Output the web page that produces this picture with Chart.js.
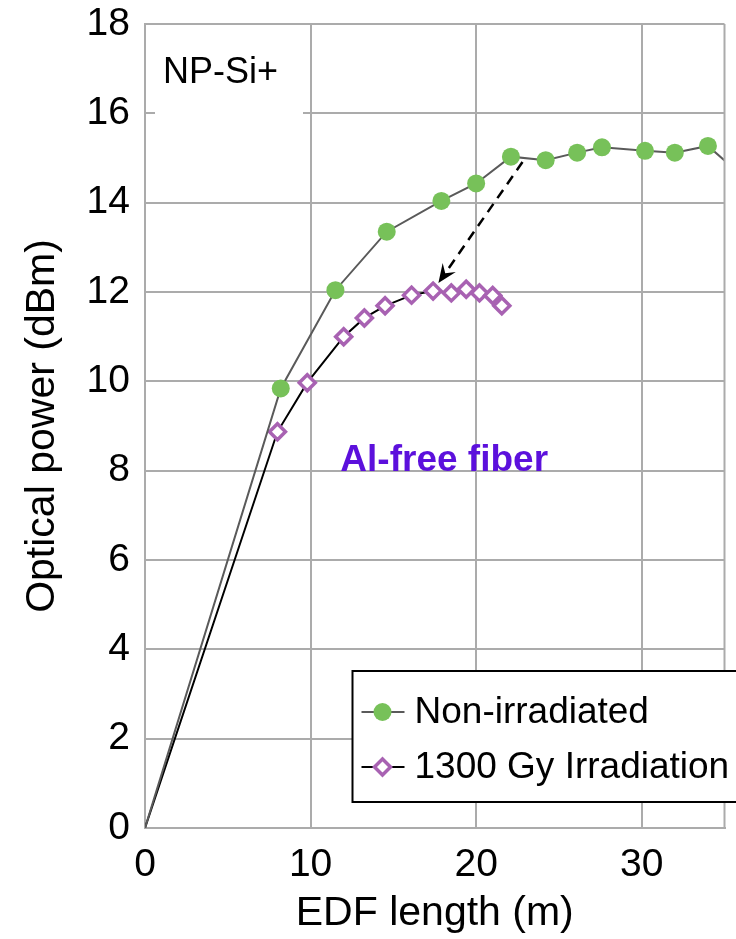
<!DOCTYPE html>
<html>
<head>
<meta charset="utf-8">
<script src="https://cdn.jsdelivr.net/npm/chart.js@4.4.1/dist/chart.umd.min.js"></script>
<style>
  html, body { margin: 0; padding: 0; background: #fff; }
  #wrap { width: 736px; height: 939px; }
</style>
</head>
<body>
<div id="wrap"><canvas id="chart"></canvas></div>
<script>
// values (EDF length in m, optical power in dBm)
const lengthNonIrr = [0, 8.2, 11.5, 14.6, 17.9, 20.0, 22.1, 24.2, 26.1, 27.6, 30.2, 32.0, 34.0, 36.0];
const powerNonIrr  = [0, 9.84, 12.04, 13.35, 14.04, 14.43, 15.03, 14.95, 15.12, 15.24, 15.16, 15.12, 15.27, 14.62];
const lengthIrr = [0, 8.0, 9.8, 12.0, 13.25, 14.5, 16.1, 17.4, 18.5, 19.4, 20.2, 21.0, 21.55];
const powerIrr  = [0, 8.87, 9.97, 11.0, 11.42, 11.69, 11.93, 12.02, 11.98, 12.06, 11.98, 11.92, 11.69];
const xTicks = [0, 10, 20, 30];
const yTicks = [0, 2, 4, 6, 8, 10, 12, 14, 16, 18];
const seriesNames = ['Non-irradiated', '1300 Gy Irradiation'];
// dashed arrow from the non-irradiated curve down to the irradiated one
const arrowFrom = [22.8, 14.91];
const arrowTo = [17.72, 12.2];

const FONT = '"Liberation Sans", Arial, Helvetica, sans-serif';
const GRID = '#ababab';

function toPoints(xs, ys) {
    return xs.map((x, i) => ({x: x, y: ys[i]}));
}

function drawMarker(ctx, ds, px, py) {
    ctx.save();
    if (ds.pointStyle === 'rectRot') {
        const r = ds.pointRadius[1];
        ctx.beginPath();
        ctx.moveTo(px, py - r);
        ctx.lineTo(px + r, py);
        ctx.lineTo(px, py + r);
        ctx.lineTo(px - r, py);
        ctx.closePath();
        ctx.fillStyle = ds.pointBackgroundColor;
        ctx.fill();
        ctx.lineWidth = ds.pointBorderWidth;
        ctx.strokeStyle = ds.pointBorderColor;
        ctx.stroke();
    } else {
        ctx.beginPath();
        ctx.arc(px, py, ds.pointRadius[1], 0, Math.PI * 2);
        ctx.fillStyle = ds.pointBackgroundColor;
        ctx.fill();
    }
    ctx.restore();
}

const overlay = {
    id: 'overlay',
    afterDatasetsDraw(chart) {
        const ctx = chart.ctx;
        const a = chart.chartArea;
        const x = chart.scales.x, y = chart.scales.y;
        ctx.save();

        // right border of the plot frame
        ctx.strokeStyle = GRID;
        ctx.lineWidth = 2;
        ctx.beginPath();
        ctx.moveTo(a.right, a.top);
        ctx.lineTo(a.right, a.bottom);
        ctx.stroke();

        // sample label with white box
        ctx.fillStyle = '#fff';
        ctx.fillRect(a.left + 10, a.top + 8, 148, 96);
        ctx.fillStyle = '#000';
        ctx.font = '36px ' + FONT;
        ctx.textBaseline = 'alphabetic';
        ctx.textAlign = 'left';
        ctx.fillText('NP-Si+', a.left + 18, a.top + 59);

        // fiber label
        ctx.fillStyle = '#5c10dc';
        ctx.font = 'bold 37px ' + FONT;
        ctx.fillText('Al-free fiber', x.getPixelForValue(11.8), y.getPixelForValue(8.0));

        // dashed arrow
        const x0 = x.getPixelForValue(arrowFrom[0]), y0 = y.getPixelForValue(arrowFrom[1]);
        const x1 = x.getPixelForValue(arrowTo[0]), y1 = y.getPixelForValue(arrowTo[1]);
        const len = Math.hypot(x1 - x0, y1 - y0);
        const ux = (x1 - x0) / len, uy = (y1 - y0) / len;
        const head = 19, half = 8, notch = 12;
        ctx.strokeStyle = '#000';
        ctx.lineWidth = 2.5;
        ctx.setLineDash([10, 7]);
        ctx.beginPath();
        ctx.moveTo(x0, y0);
        ctx.lineTo(x1 - ux * notch, y1 - uy * notch);
        ctx.stroke();
        ctx.setLineDash([]);
        ctx.fillStyle = '#000';
        ctx.beginPath();
        ctx.moveTo(x1, y1);
        ctx.lineTo(x1 - ux * head - uy * half, y1 - uy * head + ux * half);
        ctx.lineTo(x1 - ux * notch, y1 - uy * notch);
        ctx.lineTo(x1 - ux * head + uy * half, y1 - uy * head - ux * half);
        ctx.closePath();
        ctx.fill();

        // legend box
        const lx = a.right - 372, ly = a.bottom - 157;
        ctx.fillStyle = '#fff';
        ctx.fillRect(lx, ly, 400, 131);
        ctx.strokeStyle = '#000';
        ctx.lineWidth = 2;
        ctx.strokeRect(lx, ly, 400, 131);
        ctx.font = '37px ' + FONT;
        ctx.textBaseline = 'middle';
        chart.data.datasets.forEach((ds, i) => {
            const ry = ly + 41 + i * 55;
            ctx.strokeStyle = ds.borderColor;
            ctx.lineWidth = 2;
            ctx.beginPath();
            ctx.moveTo(lx + 9, ry);
            ctx.lineTo(lx + 52, ry);
            ctx.stroke();
            drawMarker(ctx, ds, lx + 30, ry);
            ctx.fillStyle = '#000';
            ctx.fillText(seriesNames[i], lx + 62, ry + 1);
        });
        ctx.restore();
    }
};

new Chart(document.getElementById('chart'), {
    type: 'line',
    data: {
        datasets: [{
            label: seriesNames[0],
            data: toPoints(lengthNonIrr, powerNonIrr),
            borderColor: '#5a5a5a',
            borderWidth: 2,
            pointStyle: 'circle',
            pointRadius: lengthNonIrr.map((v, i) => i === 0 ? 0 : 9),
            pointBackgroundColor: '#77c159',
            pointBorderWidth: 0,
            pointBorderColor: '#77c159',
            tension: 0
        }, {
            label: seriesNames[1],
            data: toPoints(lengthIrr, powerIrr),
            borderColor: '#000',
            borderWidth: 2,
            pointStyle: 'rectRot',
            pointRadius: lengthIrr.map((v, i) => i === 0 ? 0 : 8),
            pointBackgroundColor: '#fff',
            pointBorderColor: '#a862b2',
            pointBorderWidth: 3.5,
            tension: 0
        }]
    },
    options: {
        responsive: true,
        maintainAspectRatio: false,
        animation: false,
        devicePixelRatio: 1,
        layout: {padding: {top: 24, right: 7, left: 0, bottom: 0}},
        plugins: {
            legend: {display: false},
            tooltip: {enabled: false}
        },
        scales: {
            x: {
                type: 'linear',
                min: 0,
                max: 35,
                afterBuildTicks: s => { s.ticks = xTicks.map(v => ({value: v})); },
                afterFit: s => { s.height = 111; s.paddingLeft = 0; s.paddingRight = 0; },
                grid: {color: GRID, lineWidth: 2, drawTicks: false},
                border: {color: GRID, width: 2},
                ticks: {color: '#000', font: {family: FONT, size: 39}, padding: 14, maxRotation: 0},
                title: {display: true, text: 'EDF length (m)', color: '#000',
                        font: {family: FONT, size: 41}, padding: {top: 0, bottom: 1}}
            },
            y: {
                type: 'linear',
                min: 0,
                max: 18,
                afterBuildTicks: s => { s.ticks = yTicks.map(v => ({value: v})); },
                afterFit: s => { s.width = 145; s.paddingTop = 0; s.paddingBottom = 0; },
                grid: {color: GRID, lineWidth: 2, drawTicks: false},
                border: {color: GRID, width: 2},
                ticks: {color: '#000', font: {family: FONT, size: 39}, padding: 15},
                title: {display: true, text: 'Optical power (dBm)', color: '#000',
                        font: {family: FONT, size: 41}, padding: {top: 18, bottom: 0}}
            }
        }
    },
    plugins: [overlay]
});
</script>
</body>
</html>
